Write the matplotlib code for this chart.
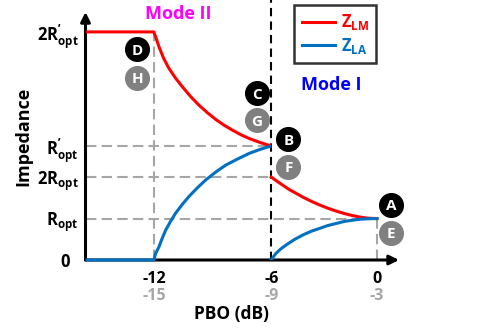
import numpy as np
import matplotlib
matplotlib.use("Agg")
import matplotlib.pyplot as plt
from matplotlib.lines import Line2D
import matplotlib.transforms as mtransforms

# === 字体 ===
plt.rcParams['font.family'] = ['Open Sans', 'DejaVu Sans']
plt.rcParams['font.weight'] = 'bold'
plt.rcParams['mathtext.fontset'] = 'custom'
plt.rcParams['mathtext.rm'] = 'Open Sans:bold'
plt.rcParams['mathtext.bf'] = 'Open Sans:bold'
plt.rcParams['mathtext.it'] = 'Open Sans:bold'

# === 数据 (阻抗以 Ropt 为单位) ===
R_opt = 1.0
R_opt2 = 2.75          # R'opt
x_left = -15.5

# Mode II: -12 ~ -6 dB
m2_pbo = [-12.0, -11.97, -11.91, -11.74, -11.5, -11.23, -10.9, -10.55, -10.12,
          -9.69, -9.26, -8.84, -8.41, -7.98, -7.55, -7.13, -6.55, -6.0]
m2_zlm = [5.50, 5.45, 5.38, 5.14, 4.86, 4.62, 4.39, 4.18, 3.94,
          3.73, 3.55, 3.39, 3.25, 3.13, 3.02, 2.93, 2.83, 2.75]
m2_pbo_la = [-12.0, -11.92, -11.74, -11.57, -11.40, -11.15, -10.89, -10.55,
             -10.21, -9.78, -9.35, -8.84, -8.32, -7.7, -7.13, -6.55, -6.0]
m2_zla = [0.0, 0.15, 0.32, 0.53, 0.72, 0.93, 1.13, 1.34,
          1.53, 1.74, 1.93, 2.12, 2.29, 2.44, 2.57, 2.67, 2.75]

# Mode I: -6 ~ 0 dB
m1_pbo = [-6.0, -5.77, -5.54, -4.98, -4.6, -4.22, -3.75, -3.27, -2.8,
          -2.32, -1.85, -1.38, -0.9, -0.43, 0.0]
m1_zlm = [2.0, 1.93, 1.86, 1.70, 1.61, 1.52, 1.42, 1.33, 1.25,
          1.18, 1.12, 1.07, 1.03, 1.005, 1.0]
m1_pbo_la = [-6.0, -5.87, -5.73, -5.45, -5.16, -4.7, -4.22, -3.75, -3.27,
             -2.8, -2.32, -1.85, -1.38, -0.9, -0.43, 0.0]
m1_zla = [0.0, 0.08, 0.16, 0.27, 0.36, 0.49, 0.60, 0.69, 0.76,
          0.83, 0.88, 0.93, 0.96, 0.985, 0.995, 1.0]

# 坐标轴刻度
x_ticks = [-12, -6, 0]
x_ticklabels = ['-12', '-6', '0']
x_ticklabels2 = ['-15', '-9', '-3']
y_ticks = [0, R_opt, 2 * R_opt, R_opt2, 2 * R_opt2]
y_ticklabels = ['0', r'$\mathbf{R_{opt}}$', r'$\mathbf{2R_{opt}}$',
                r'$\mathbf{R_{opt}^{’}}$', r'$\mathbf{2R_{opt}^{’}}$']

# 工作点标记 (字母, x, y, 颜色)
pt_names = ['D', 'H', 'C', 'G', 'B', 'F', 'A', 'E']
pt_x = [-12.86, -12.86, -6.73, -6.73, -5.02, -5.02, 0.81, 0.81]
pt_y = [5.08, 4.40, 4.02, 3.37, 2.91, 2.25, 1.33, 0.66]
pt_col = ['black', '#808080'] * 4

RED = '#FF0000'
BLUE = '#0070C0'
GRAY = '#A6A6A6'

# === x 轴分段线性刻度 ===
seg_db = [-100.0, -12.0, -6.0, 0.0, 100.0]
seg_px = [-88 * 19.5, 0.0, 117.0, 222.5, 222.5 + 100 * 17.58]

def fwd(x):
    return np.interp(x, seg_db, seg_px)

def inv(p):
    return np.interp(p, seg_px, seg_db)

fig = plt.figure(figsize=(5.04, 3.28), dpi=100)
ax = fig.add_axes([85.5 / 504, 68 / 328, (399 - 85.5) / 504, (316 - 68) / 328])
ax.set_xscale('function', functions=(fwd, inv))
ax.set_xlim(x_left, 1.25)
ax.set_ylim(0, 5.98)

for s in ax.spines.values():
    s.set_visible(False)

# 坐标轴箭头
ax.annotate('', xy=(1, 0), xytext=(0, 0), xycoords='axes fraction',
            arrowprops=dict(arrowstyle='-|>', color='black', lw=2.2,
                            mutation_scale=14, shrinkA=0, shrinkB=0))
ax.annotate('', xy=(0, 1), xytext=(0, 0), xycoords='axes fraction',
            arrowprops=dict(arrowstyle='-|>', color='black', lw=2.2,
                            mutation_scale=14, shrinkA=0, shrinkB=0))

# 灰色辅助虚线
dash_kw = dict(color=GRAY, lw=1.5, dashes=(5, 2.5), zorder=1)
ax.plot([x_left, -6], [R_opt2, R_opt2], **dash_kw)
ax.plot([x_left, -6], [2 * R_opt, 2 * R_opt], **dash_kw)
ax.plot([x_left, 0], [R_opt, R_opt], **dash_kw)
ax.plot([-12, -12], [0, 2 * R_opt2], **dash_kw)
ax.plot([0, 0], [0, R_opt], **dash_kw)

# 模式分界线
ax.plot([-6, -6], [0, 6.27], color='black', lw=1.5, dashes=(4, 2.5),
        clip_on=False, zorder=2)

# 阻抗曲线
ax.plot([x_left, -12] + m2_pbo, [2 * R_opt2, 2 * R_opt2] + m2_zlm,
        color=RED, lw=2.2, zorder=4, solid_capstyle='butt', solid_joinstyle='round')
ax.plot([x_left, -12] + m2_pbo_la, [0, 0] + m2_zla,
        color=BLUE, lw=2.2, zorder=4, clip_on=False, solid_capstyle='butt',
        solid_joinstyle='round')
ax.plot(m1_pbo, m1_zlm, color=RED, lw=2.2, zorder=4, solid_joinstyle='round')
ax.plot(m1_pbo_la, m1_zla, color=BLUE, lw=2.2, zorder=4, solid_joinstyle='round')

# 工作点
for name, x, y, c in zip(pt_names, pt_x, pt_y, pt_col):
    ax.scatter([x], [y], s=290, color=c, zorder=5, clip_on=False)
    ax.text(x, y, name, color='white', fontsize=11, fontweight='bold',
            ha='center', va='center_baseline', zorder=6)

# 刻度
ax.set_xticks(x_ticks)
ax.set_xticklabels(x_ticklabels)
ax.set_yticks(y_ticks)
ax.set_yticklabels(y_ticklabels)
ax.tick_params(length=0, labelsize=12)
ax.tick_params(axis='x', pad=8, labelsize=11.5)
ax.tick_params(axis='y', pad=5)
zero_lbl = ax.get_yticklabels()[0]
zero_lbl.set_transform(zero_lbl.get_transform() +
                       mtransforms.ScaledTranslation(-9 / 100, 0, fig.dpi_scale_trans))

for x, lab in zip(x_ticks, x_ticklabels2):
    ax.annotate(lab, xy=(x, 0), xycoords=('data', 'axes fraction'),
                xytext=(0, -36), textcoords='offset pixels',
                ha='center', va='center', color=GRAY, fontsize=11.5, fontweight='bold')

ax.set_xlabel('PBO (dB)', fontsize=12.5, fontweight='bold')
ax.xaxis.set_label_coords(0.466, -0.18)
ax.set_ylabel('Impedance', fontsize=13, fontweight='bold', labelpad=3)

# 模式标注
fig.text(178 / 504, 1 - 14 / 328, 'Mode II', color='#FF00FF', fontsize=13,
         fontweight='bold', ha='center', va='center')
fig.text(331 / 504, 1 - 85 / 328, 'Mode I', color='#0000FF', fontsize=13,
         fontweight='bold', ha='center', va='center')

# 图例
handles = [Line2D([], [], color=RED, lw=2.2), Line2D([], [], color=BLUE, lw=2.2)]
leg = ax.legend(handles, [r'$\mathbf{Z_{LM}}$', r'$\mathbf{Z_{LA}}$'],
                loc='upper left', bbox_to_anchor=(294 / 504, 1 - 5 / 328),
                bbox_transform=fig.transFigure, fontsize=12, frameon=True,
                fancybox=False, edgecolor='black', handlelength=2.0,
                handletextpad=0.35, borderpad=0.45, labelspacing=0.2,
                borderaxespad=0)
leg.get_frame().set_linewidth(1.8)
for t, c in zip(leg.get_texts(), [RED, BLUE]):
    t.set_color(c)

plt.savefig('out.png', dpi=100)
plt.close()
